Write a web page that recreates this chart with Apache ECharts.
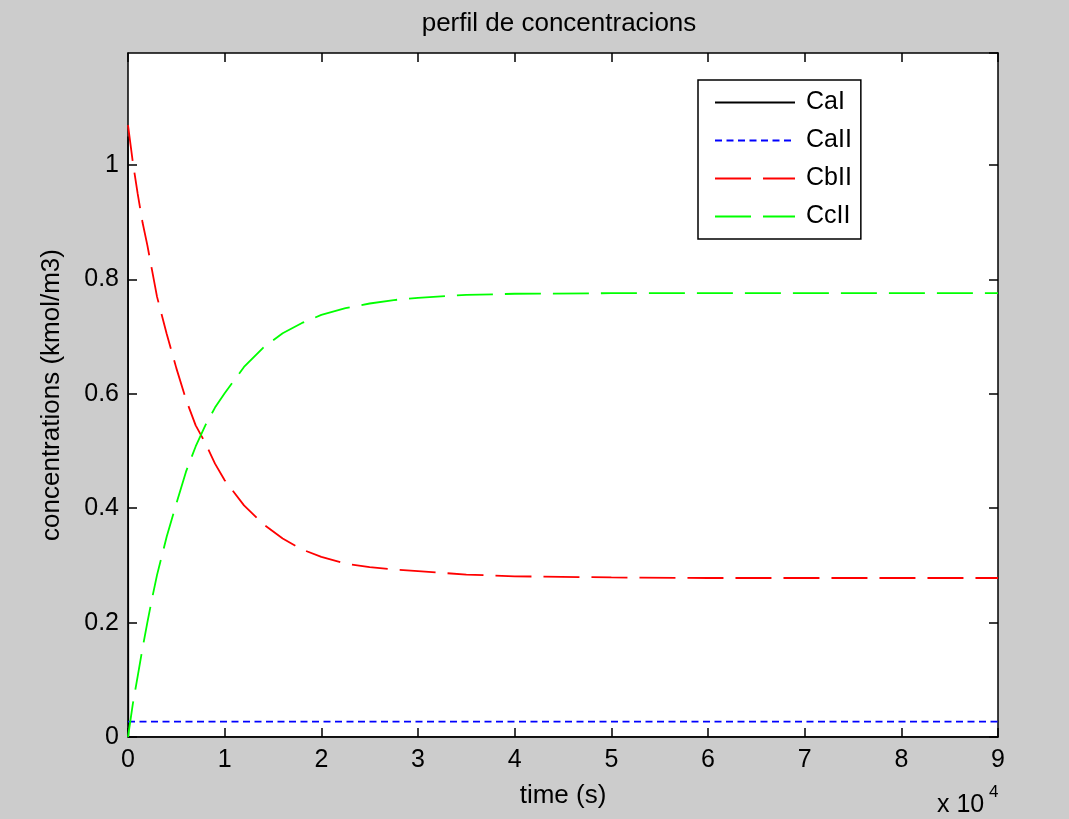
<!DOCTYPE html>
<html>
<head>
<meta charset="utf-8">
<script src="https://cdn.jsdelivr.net/npm/echarts@6/dist/echarts.min.js"></script>
<style>
  html, body { margin: 0; padding: 0; background: #cccccc; }
  #chart { width: 1069px; height: 819px; }
</style>
</head>
<body>
<div id="chart"></div>
<script>
// ---- data ----
const seriesNames = ['CaI', 'CaII', 'CbII', 'CcII'];
const xTickLabels = ['0', '1', '2', '3', '4', '5', '6', '7', '8', '9'];
const yTickLabels = ['0', '0.2', '0.4', '0.6', '0.8', '1'];

const timeS = [0, 500, 1000, 1500, 2000, 2500, 3000, 4000, 5000, 6000, 7000, 8000, 9000, 10000,
  12000, 14000, 16000, 18000, 20000, 22500, 25000, 27500, 30000, 35000, 40000,
  50000, 60000, 70000, 80000, 90000];

const calTime = [0, 50, 90000];
const calValues = [1.05, 0, 0];

const callValues = [0.027, 0.027, 0.027, 0.027, 0.027, 0.027, 0.027, 0.027, 0.027, 0.027,
  0.027, 0.027, 0.027, 0.027, 0.027, 0.027, 0.027, 0.027, 0.027, 0.027, 0.027, 0.027,
  0.027, 0.027, 0.027, 0.027, 0.027, 0.027, 0.027, 0.027];

const cbllValues = [1.07, 1.005, 0.95, 0.90, 0.86, 0.815, 0.77, 0.705, 0.645, 0.59, 0.545,
  0.514, 0.478, 0.449, 0.405, 0.372, 0.347, 0.328, 0.315, 0.303, 0.297, 0.293, 0.290,
  0.284, 0.281, 0.279, 0.278, 0.278, 0.278, 0.278];

const ccllValues = [0, 0.058, 0.106, 0.155, 0.2, 0.243, 0.283, 0.35, 0.408, 0.464, 0.508,
  0.545, 0.576, 0.601, 0.647, 0.681, 0.706, 0.724, 0.738, 0.75, 0.758, 0.764, 0.768,
  0.773, 0.775, 0.776, 0.776, 0.776, 0.776, 0.776];

// ---- build ----
const FONT = "'Liberation Sans', Arial, sans-serif";
const pairs = (xs, ys) => xs.map((x, i) => [x, ys[i]]);

const chart = echarts.init(document.getElementById('chart'), null, { renderer: 'canvas' });

const axisLineStyle = { color: '#000', width: 1.5 };
const tickStyle = { color: '#000', width: 1.5 };

const option = {
  backgroundColor: '#cccccc',
  animation: false,
  title: {
    text: 'perfil de concentracions',
    left: 559, top: 11, padding: 0, textAlign: 'center',
    textStyle: { fontFamily: FONT, fontSize: 26, fontWeight: 'normal', color: '#000' }
  },
  grid: {
    left: 128, right: 71, top: 53, bottom: 82,
    show: true, backgroundColor: '#ffffff', borderWidth: 0
  },
  legend: {
    orient: 'vertical', left: 698, top: 80,
    backgroundColor: '#ffffff', borderColor: '#000', borderWidth: 1.5,
    padding: [10, 9, 10, 16], itemWidth: 80, itemHeight: 14, itemGap: 13,
    itemStyle: { opacity: 0 },
    textStyle: { fontFamily: FONT, fontSize: 25, color: '#000', padding: [0, 0, 0, 6] },
    data: seriesNames
  },
  xAxis: [{
    type: 'value', min: 0, max: 90000, interval: 10000,
    name: 'time (s)', nameLocation: 'middle', nameGap: 46,
    nameTextStyle: { fontFamily: FONT, fontSize: 26, color: '#000' },
    axisLine: { show: true, onZero: false, lineStyle: axisLineStyle },
    axisTick: { show: true, inside: true, length: 9, lineStyle: tickStyle },
    axisLabel: { fontFamily: FONT, fontSize: 25, color: '#000', margin: 11,
      formatter: v => xTickLabels[Math.round(v / 10000)] },
    splitLine: { show: false }
  }, {
    type: 'value', position: 'top', min: 0, max: 90000, interval: 10000,
    axisLine: { show: true, onZero: false, lineStyle: axisLineStyle },
    axisTick: { show: true, inside: true, length: 9, lineStyle: tickStyle },
    axisLabel: { show: false }, splitLine: { show: false }
  }],
  yAxis: [{
    type: 'value', min: 0, max: 1.196, interval: 0.2,
    name: 'concentrations (kmol/m3)', nameLocation: 'middle', nameGap: 63, nameRotate: 90,
    nameTextStyle: { fontFamily: FONT, fontSize: 26, color: '#000' },
    axisLine: { show: true, onZero: false, lineStyle: axisLineStyle },
    axisTick: { show: true, inside: true, length: 9, lineStyle: tickStyle },
    axisLabel: { fontFamily: FONT, fontSize: 25, color: '#000', margin: 9, showMaxLabel: false,
      formatter: v => { const i = Math.round(v / 0.2); return (Math.abs(v - i * 0.2) < 1e-6 && i < yTickLabels.length) ? yTickLabels[i] : ''; } },
    splitLine: { show: false }
  }, {
    type: 'value', position: 'right', min: 0, max: 1.196, interval: 0.2,
    axisLine: { show: true, onZero: false, lineStyle: axisLineStyle },
    axisTick: { show: true, inside: true, length: 9, lineStyle: tickStyle },
    axisLabel: { show: false }, splitLine: { show: false }
  }],
  graphic: [
    { type: 'text', x: 937, y: 805, style: { text: 'x 10', fontFamily: FONT, fontSize: 25, fill: '#000', verticalAlign: 'middle', align: 'left' } },
    { type: 'text', x: 989, y: 792, style: { text: '4', fontFamily: FONT, fontSize: 17, fill: '#000', verticalAlign: 'middle', align: 'left' } }
  ],
  series: [
    { name: seriesNames[0], type: 'line', symbol: 'none', data: pairs(calTime, calValues),
      lineStyle: { color: '#000000', width: 1.5, type: 'solid' }, itemStyle: { color: '#000000' } },
    { name: seriesNames[1], type: 'line', symbol: 'none', data: pairs(timeS, callValues),
      lineStyle: { color: '#0000ff', width: 1.8, type: [7, 4.5] }, itemStyle: { color: '#0000ff' } },
    { name: seriesNames[2], type: 'line', symbol: 'none', data: pairs(timeS, cbllValues),
      lineStyle: { color: '#ff0000', width: 1.8, type: [36, 12] }, itemStyle: { color: '#ff0000' } },
    { name: seriesNames[3], type: 'line', symbol: 'none', data: pairs(timeS, ccllValues),
      lineStyle: { color: '#00ff00', width: 1.8, type: [36, 12] }, itemStyle: { color: '#00ff00' } }
  ]
};
chart.setOption(option);
</script>
</body>
</html>
